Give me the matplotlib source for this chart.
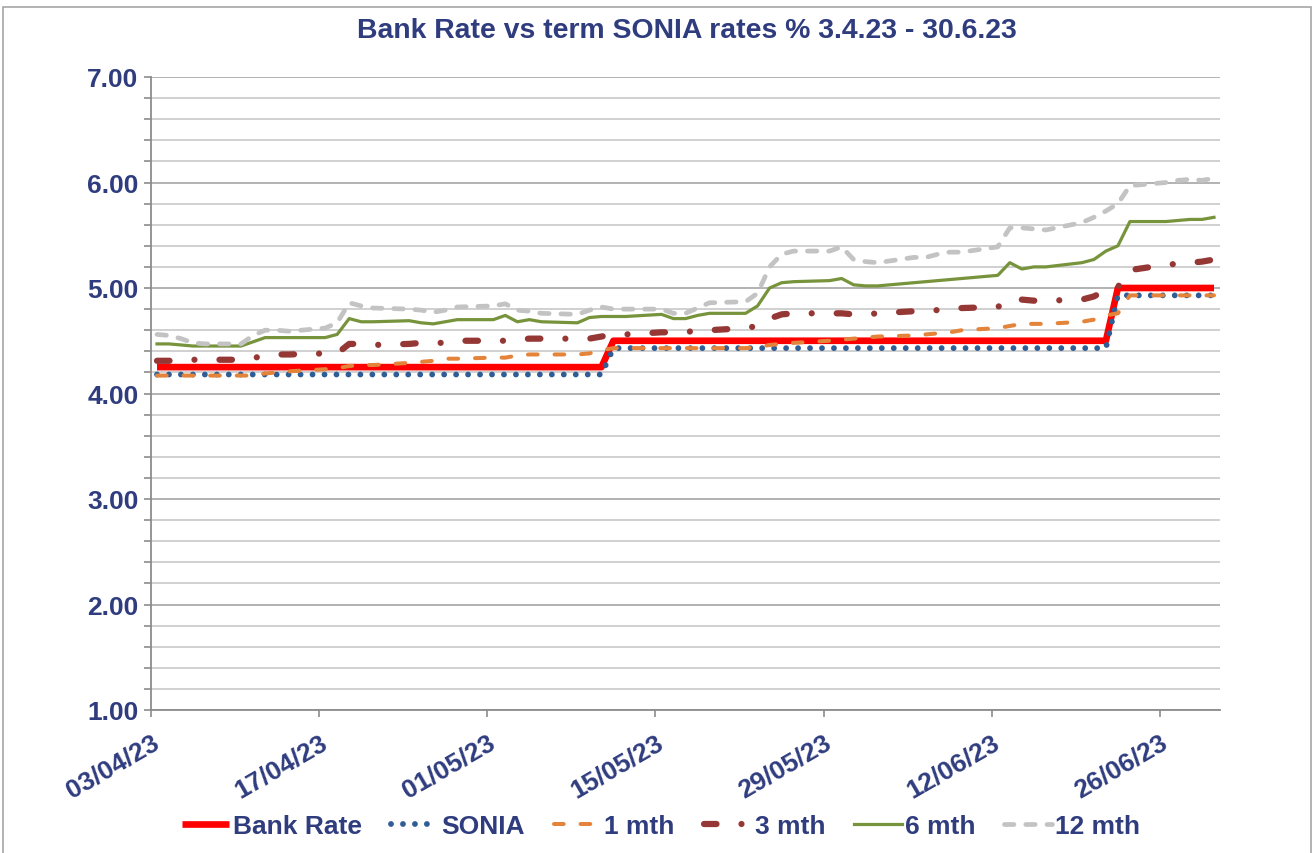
import matplotlib
matplotlib.use("Agg")
import matplotlib.pyplot as plt
import matplotlib.dates as mdates
import matplotlib.transforms as mtransforms
from matplotlib.patches import Rectangle
from matplotlib.ticker import MultipleLocator, FormatStrFormatter
import pandas as pd

# weekdays 03/04/23 - 30/06/23
dates = pd.bdate_range("2023-04-03", "2023-06-30")

# one row per week (Mon..Fri)
bank_rate = [
    4.25, 4.25, 4.25, 4.25, 4.25,
    4.25, 4.25, 4.25, 4.25, 4.25,
    4.25, 4.25, 4.25, 4.25, 4.25,
    4.25, 4.25, 4.25, 4.25, 4.25,
    4.25, 4.25, 4.25, 4.25, 4.25,
    4.25, 4.25, 4.25, 4.50, 4.50,
    4.50, 4.50, 4.50, 4.50, 4.50,
    4.50, 4.50, 4.50, 4.50, 4.50,
    4.50, 4.50, 4.50, 4.50, 4.50,
    4.50, 4.50, 4.50, 4.50, 4.50,
    4.50, 4.50, 4.50, 4.50, 4.50,
    4.50, 4.50, 4.50, 5.00, 5.00,
    5.00, 5.00, 5.00, 5.00, 5.00,
]
sonia = [
    4.18, 4.18, 4.18, 4.18, 4.18,
    4.18, 4.18, 4.18, 4.18, 4.18,
    4.18, 4.18, 4.18, 4.18, 4.18,
    4.18, 4.18, 4.18, 4.18, 4.18,
    4.18, 4.18, 4.18, 4.18, 4.18,
    4.18, 4.18, 4.18, 4.43, 4.43,
    4.43, 4.43, 4.43, 4.43, 4.43,
    4.43, 4.43, 4.43, 4.43, 4.43,
    4.43, 4.43, 4.43, 4.43, 4.43,
    4.43, 4.43, 4.43, 4.43, 4.43,
    4.43, 4.43, 4.43, 4.43, 4.43,
    4.43, 4.43, 4.43, 4.93, 4.93,
    4.93, 4.93, 4.93, 4.93, 4.93,
]
one_mth = [
    4.17, 4.17, 4.17, 4.17, 4.17,
    4.17, 4.17, 4.19, 4.20, 4.21,
    4.23, 4.24, 4.26, 4.27, 4.27,
    4.29, 4.30, 4.31, 4.33, 4.33,
    4.34, 4.34, 4.36, 4.37, 4.37,
    4.37, 4.38, 4.41, 4.43, 4.43,
    4.43, 4.43, 4.43, 4.43, 4.43,
    4.43, 4.44, 4.46, 4.47, 4.48,
    4.50, 4.51, 4.52, 4.53, 4.54,
    4.55, 4.56, 4.57, 4.58, 4.60,
    4.62, 4.64, 4.66, 4.66, 4.66,
    4.68, 4.70, 4.74, 4.76, 4.93,
    4.93, 4.93, 4.93, 4.93, 4.93,
]
three_mth = [
    4.31, 4.31, 4.32, 4.32, 4.32,
    4.32, 4.34, 4.35, 4.37, 4.37,
    4.38, 4.38, 4.47, 4.47, 4.46,
    4.47, 4.48, 4.48, 4.48, 4.50,
    4.50, 4.50, 4.51, 4.52, 4.52,
    4.52, 4.52, 4.54, 4.56, 4.56,
    4.58, 4.58, 4.58, 4.60, 4.60,
    4.62, 4.64, 4.71, 4.75, 4.76,
    4.76, 4.76, 4.75, 4.75, 4.76,
    4.78, 4.79, 4.79, 4.80, 4.81,
    4.82, 4.89, 4.89, 4.88, 4.88,
    4.89, 4.92, 4.98, 5.01, 5.17,
    5.22, 5.23, 5.24, 5.25, 5.27,
]
six_mth = [
    4.47, 4.47, 4.46, 4.45, 4.45,
    4.45, 4.49, 4.53, 4.53, 4.53,
    4.53, 4.56, 4.71, 4.68, 4.68,
    4.69, 4.67, 4.66, 4.68, 4.70,
    4.70, 4.74, 4.68, 4.70, 4.68,
    4.67, 4.72, 4.73, 4.73, 4.73,
    4.75, 4.71, 4.71, 4.74, 4.76,
    4.76, 4.83, 5.00, 5.05, 5.06,
    5.07, 5.09, 5.03, 5.02, 5.02,
    5.05, 5.06, 5.07, 5.08, 5.09,
    5.12, 5.24, 5.18, 5.20, 5.20,
    5.24, 5.27, 5.35, 5.40, 5.63,
    5.63, 5.64, 5.65, 5.65, 5.67,
]
twelve_mth = [
    4.56, 4.55, 4.52, 4.48, 4.47,
    4.47, 4.55, 4.60, 4.60, 4.59,
    4.62, 4.67, 4.86, 4.83, 4.81,
    4.80, 4.79, 4.77, 4.79, 4.82,
    4.83, 4.85, 4.79, 4.78, 4.76,
    4.75, 4.79, 4.82, 4.80, 4.80,
    4.80, 4.76, 4.76, 4.81, 4.86,
    4.87, 4.95, 5.20, 5.32, 5.35,
    5.35, 5.39, 5.27, 5.25, 5.24,
    5.29, 5.29, 5.32, 5.34, 5.34,
    5.39, 5.57, 5.57, 5.56, 5.55,
    5.62, 5.67, 5.73, 5.80, 5.97,
    6.00, 6.02, 6.03, 6.02, 6.04,
]

navy = "#2F3C7E"
plt.rcParams["font.family"] = ["Liberation Sans", "DejaVu Sans"]
plt.rcParams["font.weight"] = "bold"

fig = plt.figure(figsize=(13.14, 8.54), dpi=100)
ax = fig.add_axes([151 / 1314, 1 - 711 / 854, (1220 - 151) / 1314, (711 - 78) / 854])

# points sit in the middle of each day slot
x = dates + pd.Timedelta(hours=12)

ax.plot(x, bank_rate, color="#FF0000", lw=4.8, solid_capstyle="butt", label="Bank Rate", zorder=2)
ax.plot(x, sonia, color="#2F5D95", lw=4.2, dashes=[0.001, 2.05], dash_capstyle="round",
        label="SONIA", zorder=3)
ax.plot(x, one_mth, color="#E3843A", lw=2.9, dashes=[2.4, 4.2], dash_capstyle="round",
        label="1 mth", zorder=4)
ax.plot(x, three_mth, color="#953735", lw=4.5, dashes=[2.0, 4.0, 0.001, 4.0], dash_capstyle="round",
        label="3 mth", zorder=5)
ax.plot(x, six_mth, color="#77933C", lw=2.3, label="6 mth", zorder=6)
ax.plot(x, twelve_mth, color="#C3C3C3", lw=3.4, dashes=[2.0, 2.5], dash_capstyle="round",
        label="12 mth", zorder=7)

ax.set_ylim(1, 7)
ax.set_xlim(pd.Timestamp("2023-04-03"), pd.Timestamp("2023-07-01"))
ax.yaxis.set_major_locator(MultipleLocator(1))
ax.yaxis.set_minor_locator(MultipleLocator(0.2))
ax.yaxis.set_major_formatter(FormatStrFormatter("%.2f"))
ticks = pd.date_range("2023-04-03", "2023-06-26", freq="14D")
ax.set_xticks(ticks)
ax.xaxis.set_major_formatter(mdates.DateFormatter("%d/%m/%y"))

ax.grid(axis="y", which="major", color="#A6A6A6", lw=1.2, zorder=0)
ax.grid(axis="y", which="minor", color="#C8C8C8", lw=1.2, zorder=0)
ax.set_axisbelow(True)

for s in ["top", "right"]:
    ax.spines[s].set_visible(False)
for s in ["left", "bottom"]:
    ax.spines[s].set_color("#8C8C8C")
    ax.spines[s].set_linewidth(1.3)

ax.tick_params(axis="both", which="both", direction="out", length=5, color="#8C8C8C", width=1.2)
ax.tick_params(axis="y", labelsize=19, labelcolor=navy, pad=4)
ax.tick_params(axis="x", labelsize=19, labelcolor=navy, pad=2)
offset = mtransforms.ScaledTranslation(0, -10 / 100, fig.dpi_scale_trans)
for lab in ax.get_xticklabels():
    lab.set_rotation(30)
    lab.set_ha("right")
    lab.set_va("top")
    lab.set_rotation_mode("anchor")
    lab.set_fontweight("bold")
    lab.set_transform(lab.get_transform() + offset)
for lab in ax.get_yticklabels():
    lab.set_fontweight("bold")

fig.text(687 / 1314, 1 - 31 / 854, "Bank Rate vs term SONIA rates % 3.4.23 - 30.6.23",
         ha="center", va="center", fontsize=20.4, color=navy, fontweight="bold")

leg = fig.legend(loc="center", bbox_to_anchor=(0.503, 1 - 827 / 854), ncol=6, frameon=False,
                 fontsize=19, handlelength=1.8, handletextpad=0.12, columnspacing=1.1)
for t in leg.get_texts():
    t.set_color(navy)
    t.set_fontweight("bold")

# chart area border
fig.patches.append(Rectangle((3 / 1314, -0.02), 1308 / 1314, 1 - 8 / 854 + 0.02,
                             transform=fig.transFigure, fill=False, edgecolor="#A6A6A6", lw=1.2))

fig.savefig("out.png", dpi=100)
